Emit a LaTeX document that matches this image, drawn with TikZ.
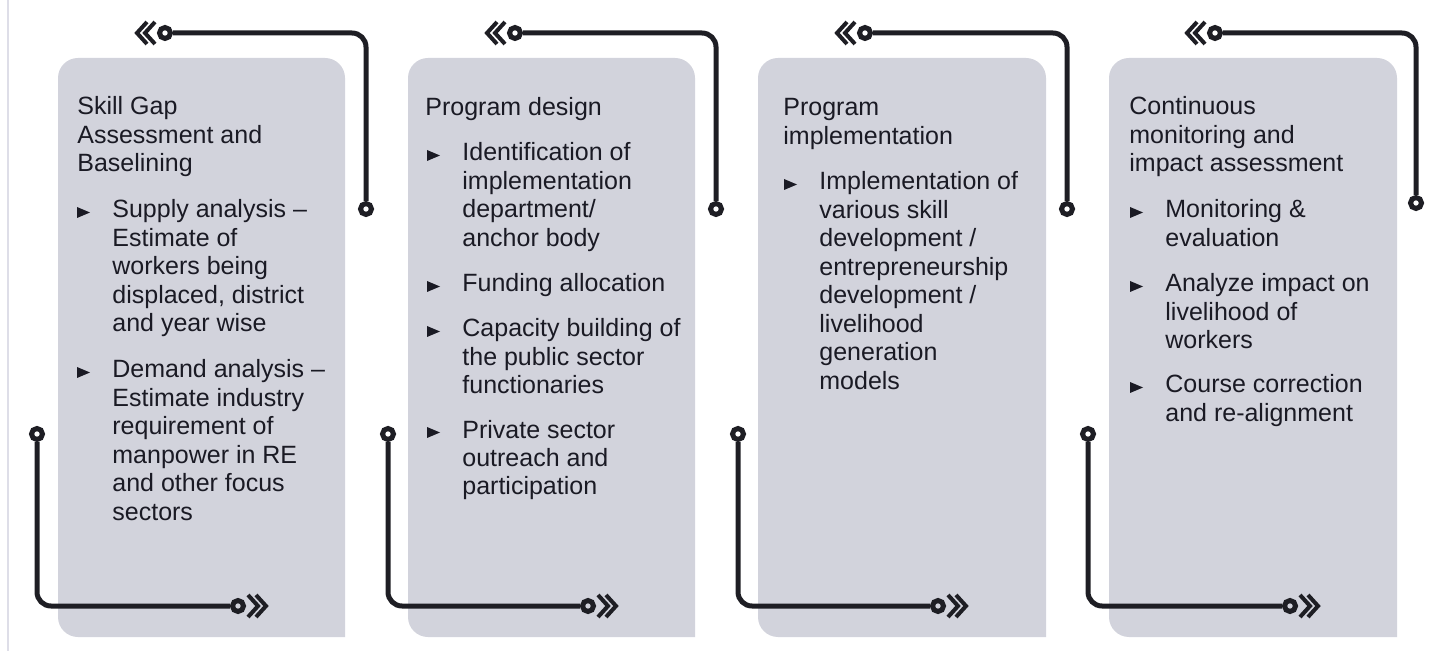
\documentclass[tikz,border=0pt]{standalone}
\usepackage{fontspec}
\setmainfont{Liberation Sans}
\definecolor{fond}{RGB}{210,211,220}
\definecolor{trait}{RGB}{30,30,36}
\definecolor{texte}{RGB}{26,26,36}
\definecolor{bord}{RGB}{222,222,232}
\newcommand{\bloc}[1]{\begin{tabular}[t]{@{}l@{}}#1\end{tabular}}
\begin{document}
\begin{tikzpicture}[x=0.5pt,y=-0.5pt]
	% définition des styles
	\tikzstyle{panneau}=[fill=fond,rounded corners=10pt]
	\tikzstyle{titre}=[anchor=base west,inner sep=0pt,text=texte,font=\fontsize{12.5}{14.25}\selectfont]
	\tikzstyle{liste}=[titre]
	\tikzstyle{puce}=[fill=texte]
	\tikzstyle{rond}=[circle,draw=trait,line width=2.5pt,minimum size=5.5pt,inner sep=0pt]
	\tikzstyle{lien}=[draw=trait,line width=2.5pt,rounded corners=7pt]
	\tikzstyle{chevron}=[draw=trait,line width=2pt,miter limit=6]
	\useasboundingbox (0,0) rectangle (1433,651);
	% le filet à gauche
	\draw[bord,line width=0.75pt] (8,0) -- (8,651);
	% les panneaux
	\fill[panneau] (345,637) -- (58,637) -- (58,58) -- (345,58) -- (345,637);
	\fill[panneau] (695,637) -- (408,637) -- (408,58) -- (695,58) -- (695,637);
	\fill[panneau] (1046,637) -- (758,637) -- (758,58) -- (1046,58) -- (1046,637);
	\fill[panneau] (1397,637) -- (1109,637) -- (1109,58) -- (1397,58) -- (1397,637);
	% les textes
	\node[titre] (t1) at (77,115) {\bloc{Skill Gap\\Assessment and\\Baselining}};
	\node[liste] (s11) at (112,218) {\bloc{Supply analysis --\\Estimate of\\workers being\\displaced, district\\and year wise}};
	\node[liste] (s12) at (112,378) {\bloc{Demand analysis --\\Estimate industry\\requirement of\\manpower in RE\\and other focus\\sectors}};
	\node[titre] (t2) at (425,116) {\bloc{Program design}};
	\node[liste] (s21) at (462,161) {\bloc{Identification of\\implementation\\department/\\anchor body}};
	\node[liste] (s22) at (462,292) {\bloc{Funding allocation}};
	\node[liste] (s23) at (462,337) {\bloc{Capacity building of\\the public sector\\functionaries}};
	\node[liste] (s24) at (462,438) {\bloc{Private sector\\outreach and\\participation}};
	\node[titre] (t3) at (783,116) {\bloc{Program\\implementation}};
	\node[liste] (s31) at (819,190) {\bloc{Implementation of\\various skill\\development /\\entrepreneurship\\development /\\livelihood\\generation\\models}};
	\node[titre] (t4) at (1129,115) {\bloc{Continuous\\monitoring and\\impact assessment}};
	\node[liste] (s41) at (1165,218) {\bloc{Monitoring \&\\evaluation}};
	\node[liste] (s42) at (1165,292) {\bloc{Analyze impact on\\livelihood of\\workers}};
	\node[liste] (s43) at (1165,393) {\bloc{Course correction\\and re-alignment}};
	% les puces
	\foreach \s in {s11,s12,s21,s22,s23,s24,s31,s41,s42,s43}
		\fill[puce] ([xshift=-17.5pt]\s.base west) -- ++(13,-5.5) -- ++(-13,-5.5) -- cycle;
	% les connecteurs
	\node[rond] (a1) at (165,33) {};
	\node[rond] (b1) at (366,209) {};
	\node[rond] (c1) at (37,434) {};
	\node[rond] (d1) at (238,606) {};
	\node[rond] (a2) at (515,33) {};
	\node[rond] (b2) at (716,209) {};
	\node[rond] (c2) at (388,434) {};
	\node[rond] (d2) at (588,606) {};
	\node[rond] (a3) at (865,33) {};
	\node[rond] (b3) at (1067,209) {};
	\node[rond] (c3) at (738,434) {};
	\node[rond] (d3) at (938,606) {};
	\node[rond] (a4) at (1215,33) {};
	\node[rond] (b4) at (1416,203) {};
	\node[rond] (c4) at (1088,434) {};
	\node[rond] (d4) at (1290,606) {};
	\draw[lien] (a1) -| (b1);
	\draw[lien] (c1) |- (d1);
	\draw[lien] (a2) -| (b2);
	\draw[lien] (c2) |- (d2);
	\draw[lien] (a3) -| (b3);
	\draw[lien] (c3) |- (d3);
	\draw[lien] (a4) -| (b4);
	\draw[lien] (c4) |- (d4);
	% les chevrons
	\foreach \n in {a1,a2,a3,a4} {
		\draw[chevron] ([shift={(-18,-11)}]\n.center) -- ++(-10,11) -- ++(10,11);
		\draw[chevron] ([shift={(-10,-11)}]\n.center) -- ++(-10,11) -- ++(10,11);
	}
	\foreach \n in {d1,d2,d3,d4} {
		\draw[chevron] ([shift={(10,-11)}]\n.center) -- ++(10,11) -- ++(-10,11);
		\draw[chevron] ([shift={(18,-11)}]\n.center) -- ++(10,11) -- ++(-10,11);
	}
\end{tikzpicture}
\end{document}
